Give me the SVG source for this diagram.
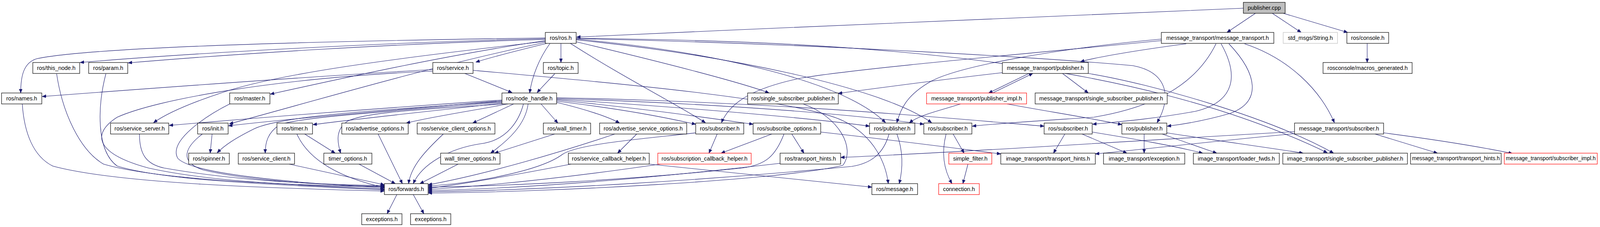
<svg xmlns="http://www.w3.org/2000/svg" width="4189" height="581" viewBox="0 0 4189 581">
<defs>
<style>
.n rect{fill:#ffffff;stroke:#000000;stroke-width:1.2}
.n text{font-family:"Liberation Sans",Arial,sans-serif;font-size:14.4px;text-anchor:middle;fill:#000000}
.n text.sm{font-size:13.8px}
.red rect{stroke:#ff0000}
.root rect{fill:#bfbfbf}
.gray rect{stroke:#bfbfbf}
#edges path{fill:none;stroke:#191970;stroke-width:1.1;marker-end:url(#ah)}
</style>
<marker id="ah" markerUnits="userSpaceOnUse" markerWidth="11" markerHeight="9" refX="10" refY="4" orient="auto">
<path d="M0,0 L10,4 L0,8 z" fill="#191970" stroke="#191970" stroke-width="0.8"/>
</marker>
</defs>
<rect width="4189" height="581" fill="#ffffff"/>
<g id="edges">
<path d="M3183,21 C2800,36 2100,66 1476,95"/>
<path d="M3214,34 L3141,83"/>
<path d="M3257,34 L3331,83"/>
<path d="M3285,34 L3450,83"/>
<path d="M3500,111 L3500,160"/>
<path d="M1396,97 C900,104 250,118 95,150 C60,160 53,195 53,238"/>
<path d="M1396,99 C1000,108 500,135 205,160"/>
<path d="M1396,101 C1000,112 600,138 328,161"/>
<path d="M1400,111 C1330,128 1270,143 1218,159"/>
<path d="M1436,111 L1436,160"/>
<path d="M1408,111 C1380,150 1362,195 1356,238"/>
<path d="M1396,104 C1150,140 900,195 692,241"/>
<path d="M1396,106 C1000,150 700,190 560,240 C470,270 420,295 393,314"/>
<path d="M1398,108 C1100,170 800,260 587,317"/>
<path d="M1475,107 C1700,160 1900,212 1969,238"/>
<path d="M1460,111 C1600,200 1720,260 1806,314"/>
<path d="M1475,100 C1800,130 2150,200 2267,314"/>
<path d="M1475,102 C1850,140 2250,220 2385,314"/>
<path d="M1476,98 C2200,105 2900,150 3398,391"/>
<path d="M1476,99 C2100,112 2700,150 2900,168 C2990,185 3000,250 2962,314"/>
<path d="M3037,112 C2900,130 2800,148 2766,158"/>
<path d="M2973,104 C2600,140 2200,175 2050,200 C1930,225 1870,260 1847,314"/>
<path d="M2973,100 C2700,125 2450,170 2380,210 C2320,245 2305,280 2296,314"/>
<path d="M3113,112 C3060,220 2950,275 2800,300 C2650,310 2550,316 2489,323"/>
<path d="M3126,112 C3170,190 3165,260 3060,285 C2950,305 2860,312 2797,318"/>
<path d="M3146,112 C3220,190 3230,260 3150,290 C3080,310 3030,318 2988,323"/>
<path d="M3186,112 C3300,150 3380,230 3416,314"/>
<path d="M1108,178 C800,195 400,225 108,247"/>
<path d="M1190,188 L1311,237"/>
<path d="M1108,182 C700,200 400,255 300,300 C230,345 250,395 380,430 C550,468 800,476 984,478"/>
<path d="M1211,180 C1600,215 2050,255 2160,310 C2240,350 2268,420 2274,470"/>
<path d="M1420,189 C1405,205 1390,220 1375,237"/>
<path d="M590,265 C530,295 430,360 455,405 C490,445 750,468 984,481"/>
<path d="M145,189 C160,290 205,385 265,420 C400,460 700,470 984,484"/>
<path d="M271,189 C250,270 245,385 300,425 C420,462 700,473 984,486"/>
<path d="M57,266 C62,340 85,400 135,425 C300,470 700,482 984,489"/>
<path d="M1285,256 C1000,275 700,298 433,321"/>
<path d="M1285,258 C1000,282 750,303 585,322"/>
<path d="M1285,260 C1000,280 720,295 650,330 C600,355 575,372 556,391"/>
<path d="M1285,262 C1000,285 760,300 715,320 C685,340 679,365 679,392"/>
<path d="M1285,264 C1100,285 950,300 801,319"/>
<path d="M1290,266 C1100,280 940,285 890,310 C860,330 862,360 872,392"/>
<path d="M1300,266 C1200,285 1100,300 1040,315"/>
<path d="M1315,266 L1210,315"/>
<path d="M1385,266 L1428,315"/>
<path d="M1352,266 C1345,320 1300,360 1256,392"/>
<path d="M1340,266 C1330,305 1300,360 1230,368 C1150,380 1080,420 1058,470"/>
<path d="M1425,262 C1500,280 1560,300 1586,315"/>
<path d="M1425,259 C1600,280 1700,300 1781,318"/>
<path d="M1425,256 C1650,278 1800,300 1928,318"/>
<path d="M1425,254 C1800,278 2100,305 2226,323"/>
<path d="M1425,252 C1900,268 2200,295 2365,318"/>
<path d="M1425,250 C2000,262 2400,300 2673,323"/>
<path d="M357,343 C357,392 372,420 420,430 C600,462 800,472 984,475"/>
<path d="M543,343 L538,392"/>
<path d="M518,343 C480,372 452,412 520,435 C650,466 850,474 984,477"/>
<path d="M740,420 L984,473"/>
<path d="M780,343 L858,392"/>
<path d="M760,343 C790,410 870,455 984,480"/>
<path d="M919,420 L1012,470"/>
<path d="M968,343 L1030,470"/>
<path d="M1135,343 C1090,385 1052,425 1046,470"/>
<path d="M1420,343 L1266,392"/>
<path d="M1173,420 L1075,470"/>
<path d="M1574,343 C1450,385 1250,445 1096,473"/>
<path d="M1630,343 L1581,392"/>
<path d="M1781,340 C1650,355 1480,368 1440,395 C1380,440 1200,470 1096,476"/>
<path d="M1836,343 L1815,392"/>
<path d="M1976,343 L1846,392"/>
<path d="M2027,343 L2058,392"/>
<path d="M2007,343 C1985,400 1960,422 1900,430 C1600,462 1300,476 1096,479"/>
<path d="M2101,338 C2300,360 2450,380 2562,394"/>
<path d="M1462,420 C1400,432 1200,470 1096,482"/>
<path d="M1662,420 C1900,445 2100,466 2232,479"/>
<path d="M1690,420 C1500,448 1300,472 1096,485"/>
<path d="M1997,418 C1700,452 1400,480 1096,488"/>
<path d="M2276,343 C2262,392 2232,418 2180,426 C1800,462 1400,486 1096,491"/>
<path d="M2296,343 C2312,385 2312,430 2302,470"/>
<path d="M2056,266 C2150,300 2190,380 2158,423 C2000,462 1400,492 1096,494"/>
<path d="M2440,343 L2468,392"/>
<path d="M2422,343 C2410,390 2415,432 2437,470"/>
<path d="M2478,420 L2465,470"/>
<path d="M2726,343 L2697,392"/>
<path d="M2770,343 L2885,392"/>
<path d="M2796,338 C2900,355 3000,372 3079,392"/>
<path d="M2929,343 L2929,392"/>
<path d="M2975,343 L3115,392"/>
<path d="M2987,340 C3100,358 3250,378 3336,392"/>
<path d="M3520,343 L3680,392"/>
<path d="M3542,340 C3680,358 3800,378 3872,393"/>
<path d="M3314,337 C2900,360 2500,388 2152,403"/>
<path d="M3314,342 C3100,362 2950,380 2804,394"/>
<path d="M2634,188 L2531,238"/>
<path d="M2541,238 L2644,188"/>
<path d="M2720,188 L2786,238"/>
<path d="M2566,186 C2400,205 2250,225 2146,239"/>
<path d="M2786,188 C2950,215 3250,300 3414,392"/>
<path d="M2459,266 C2400,285 2350,295 2328,315"/>
<path d="M2578,266 C2680,285 2780,300 2872,319"/>
<path d="M1016,498 L991,547"/>
<path d="M1058,498 L1085,547"/>
</g>
<g id="n_pub" class="n root"><rect x="3183" y="6" width="107" height="28"/><text x="3236.5" y="24.5">publisher.cpp</text></g>
<g id="n_ros" class="n"><rect x="1396" y="83" width="79" height="28"/><text x="1435.5" y="101.5">ros/ros.h</text></g>
<g id="n_mt" class="n"><rect x="2973" y="83" width="288" height="28"/><text x="3117" y="101.5">message_transport/message_transport.h</text></g>
<g id="n_std" class="n gray"><rect x="3285" y="83" width="139" height="28"/><text x="3354.5" y="101.5">std_msgs/String.h</text></g>
<g id="n_console" class="n"><rect x="3448" y="83" width="107" height="28"/><text x="3501.5" y="101.5">ros/console.h</text></g>
<g id="n_thisnode" class="n"><rect x="84" y="160" width="120" height="28"/><text x="144" y="178.5">ros/this_node.h</text></g>
<g id="n_param" class="n"><rect x="227" y="160" width="100" height="28"/><text x="277" y="178.5">ros/param.h</text></g>
<g id="n_service" class="n"><rect x="1108" y="160" width="103" height="28"/><text x="1159.5" y="178.5">ros/service.h</text></g>
<g id="n_topic" class="n"><rect x="1391" y="160" width="89" height="28"/><text x="1435.5" y="178.5">ros/topic.h</text></g>
<g id="n_mtpub" class="n"><rect x="2566" y="160" width="220" height="28"/><text x="2676" y="178.5">message_transport/publisher.h</text></g>
<g id="n_macros" class="n"><rect x="3387" y="160" width="228" height="28"/><text x="3501" y="178.5">rosconsole/macros_generated.h</text></g>
<g id="n_names" class="n"><rect x="4" y="238" width="103" height="28"/><text x="55.5" y="256.5">ros/names.h</text></g>
<g id="n_master" class="n"><rect x="588" y="238" width="103" height="28"/><text x="639.5" y="256.5">ros/master.h</text></g>
<g id="n_nh" class="n"><rect x="1285" y="238" width="140" height="28"/><text x="1355" y="256.5">ros/node_handle.h</text></g>
<g id="n_rssp" class="n"><rect x="1914" y="238" width="232" height="28"/><text x="2030" y="256.5">ros/single_subscriber_publisher.h</text></g>
<g id="n_mtpubimpl" class="n red"><rect x="2372" y="238" width="256" height="28"/><text x="2500" y="256.5">message_transport/publisher_impl.h</text></g>
<g id="n_mtssp" class="n"><rect x="2650" y="238" width="338" height="28"/><text x="2819" y="256.5">message_transport/single_subscriber_publisher.h</text></g>
<g id="n_ssrv" class="n"><rect x="283" y="315" width="149" height="28"/><text x="357.5" y="333.5">ros/service_server.h</text></g>
<g id="n_init" class="n"><rect x="506" y="315" width="78" height="28"/><text x="545" y="333.5">ros/init.h</text></g>
<g id="n_timer" class="n"><rect x="709" y="315" width="91" height="28"/><text x="754.5" y="333.5">ros/timer.h</text></g>
<g id="n_advopt" class="n"><rect x="875" y="315" width="170" height="28"/><text x="960" y="333.5">ros/advertise_options.h</text></g>
<g id="n_scopt" class="n"><rect x="1068" y="315" width="199" height="28"/><text x="1167.5" y="333.5">ros/service_client_options.h</text></g>
<g id="n_wtimer" class="n"><rect x="1391" y="315" width="121" height="28"/><text x="1451.5" y="333.5">ros/wall_timer.h</text></g>
<g id="n_asopt" class="n"><rect x="1535" y="315" width="223" height="28"/><text x="1646.5" y="333.5">ros/advertise_service_options.h</text></g>
<g id="n_sub1" class="n"><rect x="1781" y="315" width="123" height="28"/><text x="1842.5" y="333.5">ros/subscriber.h</text></g>
<g id="n_subopt" class="n"><rect x="1928" y="315" width="173" height="28"/><text x="2014.5" y="333.5">ros/subscribe_options.h</text></g>
<g id="n_pub1" class="n"><rect x="2226" y="315" width="116" height="28"/><text x="2284" y="333.5">ros/publisher.h</text></g>
<g id="n_sub2" class="n"><rect x="2365" y="315" width="123" height="28"/><text x="2426.5" y="333.5">ros/subscriber.h</text></g>
<g id="n_sub3" class="n"><rect x="2673" y="315" width="123" height="28"/><text x="2734.5" y="333.5">ros/subscriber.h</text></g>
<g id="n_pub2" class="n"><rect x="2872" y="315" width="115" height="28"/><text x="2929.5" y="333.5">ros/publisher.h</text></g>
<g id="n_mtsub" class="n"><rect x="3314" y="315" width="228" height="28"/><text x="3428" y="333.5">message_transport/subscriber.h</text></g>
<g id="n_spinner" class="n"><rect x="483" y="392" width="104" height="28"/><text x="535" y="410.5">ros/spinner.h</text></g>
<g id="n_sclient" class="n"><rect x="610" y="392" width="144" height="28"/><text x="682" y="410.5">ros/service_client.h</text></g>
<g id="n_topt" class="n"><rect x="829" y="392" width="123" height="28"/><text x="890.5" y="410.5">timer_options.h</text></g>
<g id="n_wtopt" class="n"><rect x="1128" y="392" width="152" height="28"/><text x="1204" y="410.5">wall_timer_options.h</text></g>
<g id="n_scbh" class="n"><rect x="1455" y="392" width="207" height="28"/><text x="1558.5" y="410.5">ros/service_callback_helper.h</text></g>
<g id="n_subcbh" class="n red"><rect x="1684" y="392" width="239" height="28"/><text x="1803.5" y="410.5">ros/subscription_callback_helper.h</text></g>
<g id="n_rth" class="n"><rect x="1997" y="392" width="155" height="28"/><text x="2074.5" y="410.5">ros/transport_hints.h</text></g>
<g id="n_sfilter" class="n red"><rect x="2429" y="392" width="110" height="28"/><text x="2484" y="410.5">simple_filter.h</text></g>
<g id="n_itth" class="n"><rect x="2562" y="392" width="242" height="28"/><text x="2683" y="410.5">image_transport/transport_hints.h</text></g>
<g id="n_itexc" class="n"><rect x="2825" y="392" width="208" height="28"/><text x="2929" y="410.5">image_transport/exception.h</text></g>
<g id="n_itlf" class="n"><rect x="3055" y="392" width="220" height="28"/><text x="3165" y="410.5">image_transport/loader_fwds.h</text></g>
<g id="n_itssp" class="n"><rect x="3284" y="392" width="319" height="28"/><text x="3443.5" y="410.5">image_transport/single_subscriber_publisher.h</text></g>
<g id="n_mtth" class="n"><rect x="3611" y="392" width="232" height="28"/><text class="sm" x="3727" y="410.3">message_transport/transport_hints.h</text></g>
<g id="n_mtsubimpl" class="n red"><rect x="3851" y="392" width="238" height="28"/><text class="sm" x="3970" y="410.3">message_transport/subscriber_impl.h</text></g>
<g id="n_fwd" class="n"><rect x="984" y="470" width="112" height="28"/><text x="1040" y="488.5">ros/forwards.h</text></g>
<g id="n_msg" class="n"><rect x="2232" y="470" width="117" height="28"/><text x="2290.5" y="488.5">ros/message.h</text></g>
<g id="n_conn" class="n red"><rect x="2403" y="470" width="104" height="28"/><text x="2455" y="488.5">connection.h</text></g>
<g id="n_exc1" class="n"><rect x="926" y="547" width="103" height="28"/><text x="977.5" y="565.5">exceptions.h</text></g>
<g id="n_exc2" class="n"><rect x="1051" y="547" width="103" height="28"/><text x="1102.5" y="565.5">exceptions.h</text></g>
</svg>
